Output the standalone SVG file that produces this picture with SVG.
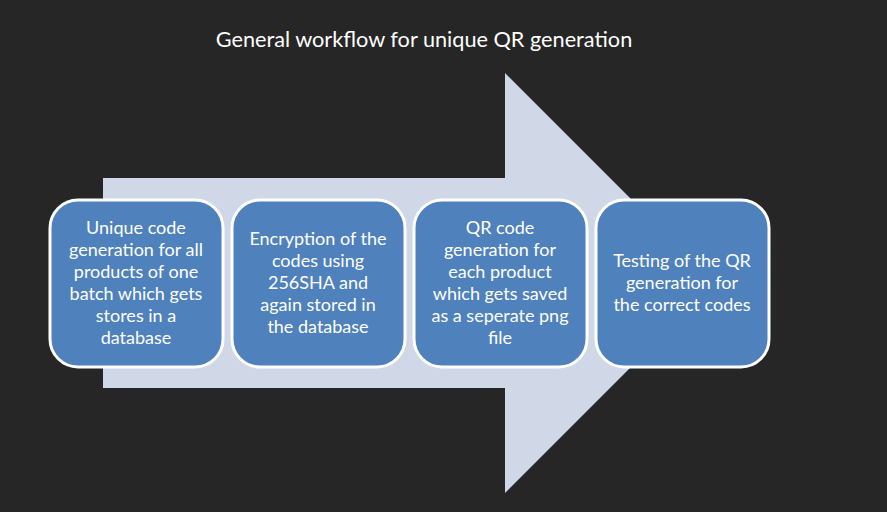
<svg xmlns="http://www.w3.org/2000/svg" width="887" height="512" viewBox="0 0 887 512">
<style>
.bg{fill:#262626}
.arrow{fill:#D0D8E8}
.box{fill:#4F81BD;stroke:#FFFFFF;stroke-width:3}
.t{font-family:Lato,"Open Sans","Liberation Sans",sans-serif;font-size:18px;fill:#FFFFFF;text-anchor:middle}
.title{font-family:Lato,"Open Sans","Liberation Sans",sans-serif;font-size:21.7px;fill:#FFFFFF;text-anchor:middle}
</style>
<rect class="bg" x="0" y="0" width="887" height="512"/>
<text class="title" x="424" y="47">General workflow for unique QR generation</text>
<g id="connectors">
<polygon class="arrow" points="103,178 505,178 505,73 715,283 505,493 505,388 103,388"/>
</g>
<g id="node1">
<rect class="box" x="50" y="200" width="173" height="167" rx="28"/>
<text class="t"><tspan x="136" y="234">Unique code</tspan><tspan x="136" y="256">generation for all</tspan><tspan x="136" y="278">products of one</tspan><tspan x="136" y="300">batch which gets</tspan><tspan x="136" y="322">stores in a</tspan><tspan x="136" y="344">database</tspan></text>
</g>
<g id="node2">
<rect class="box" x="232" y="200" width="173" height="167" rx="28"/>
<text class="t"><tspan x="318" y="245">Encryption of the</tspan><tspan x="318" y="267">codes using</tspan><tspan x="318" y="289">256SHA and</tspan><tspan x="318" y="311">again stored in</tspan><tspan x="318" y="333">the database</tspan></text>
</g>
<g id="node3">
<rect class="box" x="414" y="200" width="173" height="167" rx="28"/>
<text class="t"><tspan x="500" y="234">QR code</tspan><tspan x="500" y="256">generation for</tspan><tspan x="500" y="278">each product</tspan><tspan x="500" y="300">which gets saved</tspan><tspan x="500" y="322">as a seperate png</tspan><tspan x="500" y="344">file</tspan></text>
</g>
<g id="node4">
<rect class="box" x="596" y="200" width="173" height="167" rx="28"/>
<text class="t"><tspan x="682" y="267">Testing of the QR</tspan><tspan x="682" y="289">generation for</tspan><tspan x="682" y="311">the correct codes</tspan></text>
</g>
</svg>
